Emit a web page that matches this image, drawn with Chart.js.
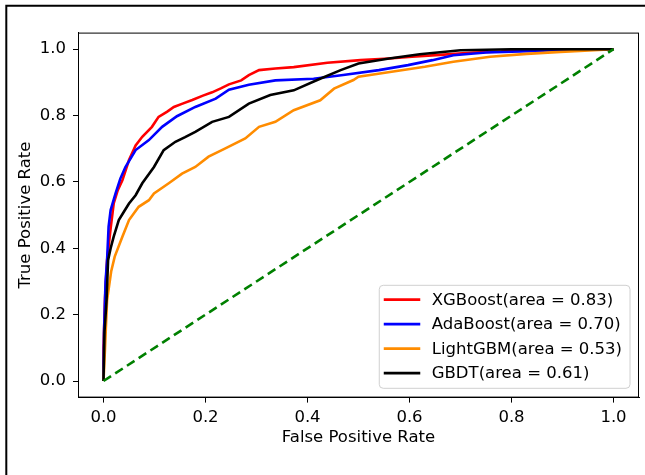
<!DOCTYPE html>
<html>
<head>
<meta charset="utf-8">
<script src="https://cdn.jsdelivr.net/npm/chart.js@4/dist/chart.umd.min.js"></script>
<style>
  body { margin: 0; background: #fff; }
  canvas { display: block; }
</style>
</head>
<body>
<canvas id="roc" width="645" height="475"></canvas>
<script>
// curvas ROC
const modelos = ['XGBoost', 'AdaBoost', 'LightGBM', 'GBDT'];
const areas = [0.83, 0.70, 0.53, 0.61];
const colores = ['#ff0000', '#0000ff', '#ff8c00', '#000000'];

const fprXGB = [0, 0, 0.003, 0.007, 0.014, 0.020, 0.028, 0.037, 0.050, 0.063, 0.076, 0.095, 0.108, 0.125, 0.138, 0.155, 0.174, 0.195, 0.213, 0.230, 0.246, 0.270, 0.285, 0.305, 0.337, 0.373, 0.439, 0.504, 0.560, 0.605, 0.660, 0.726, 0.780, 0.847, 1.0];
const tprXGB = [0, 0.10, 0.25, 0.364, 0.460, 0.535, 0.575, 0.605, 0.666, 0.710, 0.736, 0.766, 0.796, 0.812, 0.826, 0.836, 0.847, 0.860, 0.870, 0.882, 0.894, 0.906, 0.922, 0.937, 0.942, 0.946, 0.959, 0.967, 0.972, 0.977, 0.983, 0.990, 0.993, 1.0, 1.0];

const fprAda = [0, 0.001, 0.004, 0.007, 0.010, 0.014, 0.0235, 0.033, 0.043, 0.063, 0.089, 0.115, 0.144, 0.180, 0.220, 0.246, 0.285, 0.337, 0.412, 0.470, 0.540, 0.597, 0.645, 0.686, 0.750, 0.850, 0.930, 1.0];
const tprAda = [0, 0.145, 0.300, 0.364, 0.465, 0.515, 0.565, 0.610, 0.645, 0.696, 0.726, 0.766, 0.798, 0.826, 0.851, 0.878, 0.893, 0.906, 0.911, 0.922, 0.937, 0.952, 0.967, 0.982, 0.990, 0.995, 1.0, 1.0];

const fprLGB = [0, 0.003, 0.007, 0.015, 0.022, 0.037, 0.050, 0.069, 0.089, 0.099, 0.128, 0.154, 0.180, 0.206, 0.239, 0.278, 0.305, 0.337, 0.373, 0.425, 0.452, 0.490, 0.500, 0.565, 0.630, 0.686, 0.758, 0.830, 0.896, 1.0];
const tprLGB = [0, 0.10, 0.244, 0.330, 0.375, 0.435, 0.485, 0.525, 0.545, 0.565, 0.596, 0.625, 0.645, 0.676, 0.701, 0.731, 0.766, 0.781, 0.816, 0.846, 0.881, 0.907, 0.917, 0.932, 0.947, 0.962, 0.977, 0.986, 0.992, 1.0];

const fprGBDT = [0, 0.002, 0.006, 0.009, 0.014, 0.020, 0.030, 0.040, 0.050, 0.063, 0.076, 0.099, 0.118, 0.141, 0.160, 0.180, 0.213, 0.246, 0.285, 0.327, 0.373, 0.419, 0.465, 0.500, 0.560, 0.620, 0.700, 0.800, 1.0];
const tprGBDT = [0, 0.15, 0.244, 0.364, 0.400, 0.435, 0.485, 0.510, 0.535, 0.560, 0.596, 0.645, 0.696, 0.721, 0.735, 0.751, 0.781, 0.796, 0.836, 0.862, 0.876, 0.907, 0.937, 0.957, 0.972, 0.985, 0.997, 1.0, 1.0];

const fprAzar = [0, 1];
const tprAzar = [0, 1];

const ticksEje = [0, 0.2, 0.4, 0.6, 0.8, 1.0];

const fuente = 'DejaVu Sans';
const tamano = 16.5;
const grosor = 2.6;
const puntos = (xs, ys) => xs.map((x, i) => ({ x: x, y: ys[i] }));

const curvas = [
  puntos(fprXGB, tprXGB),
  puntos(fprAda, tprAda),
  puntos(fprLGB, tprLGB),
  puntos(fprGBDT, tprGBDT)
];

const datasets = curvas.map((data, i) => ({
  label: `${modelos[i]}(area = ${areas[i].toFixed(2)})`,
  data: data,
  borderColor: colores[i],
  borderWidth: grosor,
  showLine: true,
  pointRadius: 0,
  fill: false,
  order: 4 - i
}));

datasets.push({
  label: 'azar',
  data: puntos(fprAzar, tprAzar),
  borderColor: '#008000',
  borderWidth: grosor,
  borderDash: [9, 5],
  showLine: true,
  pointRadius: 0,
  order: 0
});

// marco exterior, spines y leyenda dentro del area
const decoracion = {
  id: 'decoracion',
  beforeDraw(chart) {
    const ctx = chart.ctx;
    ctx.save();
    ctx.fillStyle = '#fff';
    ctx.fillRect(0, 0, chart.width, chart.height);
    ctx.restore();
  },
  afterDatasetsDraw(chart) {
    const ctx = chart.ctx;
    const a = chart.chartArea;
    ctx.save();
    ctx.strokeStyle = '#000';
    ctx.lineWidth = 1;
    ctx.strokeRect(a.left + 0.5, a.top + 0.5, a.right - a.left - 1, a.bottom - a.top - 1);
    ctx.restore();
  },
  afterDraw(chart) {
    const ctx = chart.ctx;
    const a = chart.chartArea;
    ctx.save();

    // leyenda
    ctx.font = `${tamano}px "${fuente}"`;
    const etiquetas = datasets.slice(0, 4).map(d => d.label);
    const anchoTexto = Math.max(...etiquetas.map(t => ctx.measureText(t).width));
    const ancho = 4.5 + 36.5 + 11.5 + anchoTexto + 8;
    const alto = 103;
    const x0 = a.right - 9 - ancho;
    const y0 = a.bottom - 9.3 - alto;

    ctx.beginPath();
    ctx.roundRect(x0, y0, ancho, alto, 4);
    ctx.fillStyle = 'rgba(255,255,255,0.8)';
    ctx.fill();
    ctx.strokeStyle = '#d0d0d0';
    ctx.lineWidth = 1;
    ctx.stroke();

    ctx.textBaseline = 'middle';
    ctx.textAlign = 'left';
    etiquetas.forEach((t, i) => {
      const y = y0 + 14.3 + i * 24.5;
      ctx.beginPath();
      ctx.moveTo(x0 + 4.5, y);
      ctx.lineTo(x0 + 41, y);
      ctx.strokeStyle = colores[i];
      ctx.lineWidth = grosor;
      ctx.stroke();
      ctx.fillStyle = '#000';
      ctx.fillText(t, x0 + 52.5, y + 1);
    });

    // marco de la figura (solo izquierda y arriba visibles)
    ctx.strokeStyle = '#000';
    ctx.lineWidth = 2;
    ctx.beginPath();
    ctx.moveTo(6.3, chart.height);
    ctx.lineTo(6.3, 5.7);
    ctx.lineTo(chart.width, 5.7);
    ctx.stroke();
    ctx.restore();
  }
};

const ejeComun = {
  type: 'linear',
  min: -0.05,
  max: 1.05,
  afterBuildTicks: (scale) => { scale.ticks = ticksEje.map(v => ({ value: v })); },
  grid: { drawOnChartArea: false, drawTicks: true, tickLength: 5, tickColor: '#000', color: '#000' },
  border: { display: true, color: '#000', width: 1 },
  ticks: {
    color: '#000',
    font: { family: fuente, size: tamano },
    callback: (v) => Number(v).toFixed(1)
  }
};

new Chart(document.getElementById('roc'), {
  type: 'scatter',
  data: { datasets: datasets },
  options: {
    responsive: false,
    animation: false,
    layout: { padding: { left: 0, top: 32.6, right: 6, bottom: 0 } },
    plugins: { legend: { display: false }, tooltip: { enabled: false } },
    scales: {
      x: {
        ...ejeComun,
        position: 'bottom',
        afterFit: (scale) => { scale.height = 77.4; },
        ticks: { ...ejeComun.ticks, padding: 5, maxRotation: 0 },
        title: {
          display: true,
          text: 'False Positive Rate',
          color: '#000',
          font: { family: fuente, size: tamano },
          padding: { top: 0, bottom: 27 }
        }
      },
      y: {
        ...ejeComun,
        position: 'left',
        afterFit: (scale) => { scale.width = 78; },
        ticks: { ...ejeComun.ticks, padding: 7 },
        title: {
          display: true,
          text: 'True Positive Rate',
          color: '#000',
          font: { family: fuente, size: tamano },
          padding: { top: 16, bottom: 0 }
        }
      }
    }
  },
  plugins: [decoracion]
});
</script>
</body>
</html>
